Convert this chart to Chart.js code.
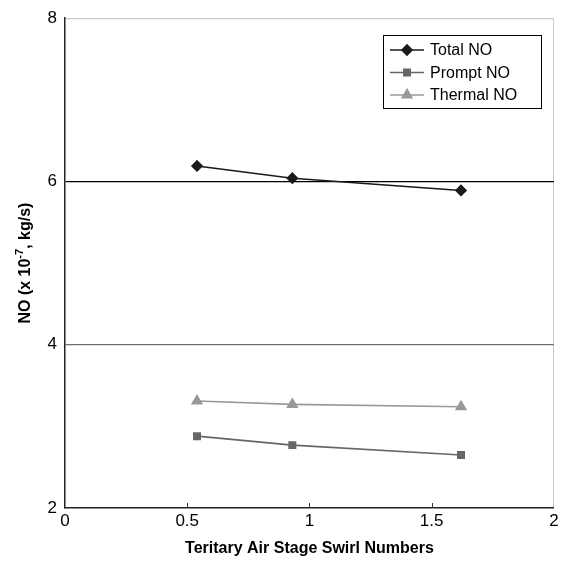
<!DOCTYPE html>
<html>
<head>
<meta charset="utf-8">
<script src="https://cdn.jsdelivr.net/npm/chart.js@4"></script>
<style>
  html, body { margin: 0; padding: 0; background: #fff; }
  #wrap { width: 561px; height: 562px; }
</style>
</head>
<body>
<div id="wrap"><canvas id="noChart" width="561" height="562"></canvas></div>
<script>
// swirl numbers on the x axis
const swirl = [0.54, 0.93, 1.62];
// NO values (x 1e-7 kg/s)
const totalNO   = [6.19, 6.04, 5.89];
const promptNO  = [2.88, 2.77, 2.65];
const thermalNO = [3.31, 3.27, 3.24];
const xTicks = [0, 0.5, 1, 1.5, 2];
const yTicks = [2, 4, 6, 8];

const FONT = '"Liberation Sans", Arial, Helvetica, sans-serif';

function pts(ys) {
    return swirl.map((x, i) => ({x: x, y: ys[i]}));
}

// titles, inward x ticks and the boxed legend
const extras = {
    id: 'extras',
    afterDraw(chart) {
        const ctx = chart.ctx;
        const a = chart.chartArea;
        const xs = chart.scales.x;
        ctx.save();
        // inward tick marks on x axis
        ctx.strokeStyle = '#333';
        ctx.lineWidth = 1;
        xTicks.forEach(v => {
            if (v === 0 || v === 2) return;
            const px = Math.round(xs.getPixelForValue(v)) + 0.5;
            ctx.beginPath();
            ctx.moveTo(px, a.bottom);
            ctx.lineTo(px, a.bottom - 5);
            ctx.stroke();
        });
        // x title
        ctx.fillStyle = '#000';
        ctx.font = 'bold 16px ' + FONT;
        ctx.textAlign = 'center';
        ctx.textBaseline = 'middle';
        ctx.fillText('Teritary Air Stage Swirl Numbers', (a.left + a.right) / 2, 549);
        // y title with superscript
        ctx.translate(26, (a.top + a.bottom) / 2);
        ctx.rotate(-Math.PI / 2);
        const p1 = 'NO (x 10', sup = '-7', p2 = ', kg/s)';
        ctx.font = 'bold 16px ' + FONT;
        const w1 = ctx.measureText(p1).width, w3 = ctx.measureText(p2).width;
        ctx.font = 'bold 11px ' + FONT;
        const w2 = ctx.measureText(sup).width;
        let x = -(w1 + w2 + w3) / 2;
        ctx.textAlign = 'left';
        ctx.font = 'bold 16px ' + FONT;
        ctx.fillText(p1, x, 0);
        x += w1;
        ctx.font = 'bold 11px ' + FONT;
        ctx.fillText(sup, x, -6);
        x += w2;
        ctx.font = 'bold 16px ' + FONT;
        ctx.fillText(p2, x, 0);
        ctx.restore();

        // legend
        ctx.save();
        ctx.fillStyle = '#fff';
        ctx.fillRect(383, 35, 158, 73);
        ctx.strokeStyle = '#000';
        ctx.lineWidth = 1;
        ctx.strokeRect(383.5, 35.5, 158, 73);
        ctx.font = '16px ' + FONT;
        ctx.textAlign = 'left';
        ctx.textBaseline = 'middle';
        chart.data.datasets.forEach((ds, i) => {
            const y = 50 + i * 22.5;
            ctx.strokeStyle = ds.borderColor;
            ctx.lineWidth = ds.borderWidth;
            ctx.beginPath();
            ctx.moveTo(390, y);
            ctx.lineTo(424, y);
            ctx.stroke();
            ctx.fillStyle = ds.pointBackgroundColor;
            ctx.strokeStyle = ds.pointBackgroundColor;
            Chart.helpers.drawPoint(ctx, {pointStyle: ds.pointStyle, radius: ds.pointRadius, borderWidth: 1, rotation: 0}, 407, y);
            ctx.fillStyle = '#000';
            ctx.fillText(ds.label, 430, y + 1);
        });
        ctx.restore();
    }
};

function gridColorY(c) {
    const v = c.tick && c.tick.value;
    if (v === 8) return '#c8c8c8';
    if (v === 6) return '#000';
    if (v === 4) return '#6e6e6e';
    return 'rgba(0,0,0,0)';
}
function gridColorX(c) {
    const v = c.tick && c.tick.value;
    if (v === 2) return '#c8c8c8';
    return 'rgba(0,0,0,0)';
}

const config = {
    type: 'line',
    data: {
        datasets: [{
            label: 'Total NO',
            data: pts(totalNO),
            borderColor: '#1a1a1a',
            borderWidth: 1.6,
            pointStyle: 'rectRot',
            pointRadius: 5,
            pointBackgroundColor: '#1a1a1a',
            pointBorderColor: '#1a1a1a',
            tension: 0
        }, {
            label: 'Prompt NO',
            data: pts(promptNO),
            borderColor: '#666',
            borderWidth: 1.6,
            pointStyle: 'rect',
            pointRadius: 4.5,
            pointBackgroundColor: '#666',
            pointBorderColor: '#666',
            tension: 0
        }, {
            label: 'Thermal NO',
            data: pts(thermalNO),
            borderColor: '#999',
            borderWidth: 1.6,
            pointStyle: 'triangle',
            pointRadius: 5.5,
            pointBackgroundColor: '#999',
            pointBorderColor: '#999',
            tension: 0
        }]
    },
    options: {
        responsive: false,
        animation: false,
        layout: {padding: {left: 0, right: 7, top: 18, bottom: 0}},
        plugins: {legend: {display: false}, tooltip: {enabled: false}},
        scales: {
            x: {
                type: 'linear',
                min: 0, max: 2,
                afterBuildTicks: s => { s.ticks = xTicks.map(v => ({value: v})); },
                afterFit: s => { s.height = 54; s.paddingRight = 0; },
                grid: {color: gridColorX, drawTicks: false, lineWidth: 1},
                border: {color: '#222', width: 1.5},
                ticks: {
                    color: '#000', font: {family: FONT, size: 17}, padding: 3, maxRotation: 0,
                    callback: v => String(v)
                }
            },
            y: {
                type: 'linear',
                min: 2, max: 8,
                afterBuildTicks: s => { s.ticks = yTicks.map(v => ({value: v})); },
                afterFit: s => { s.width = 65; },
                grid: {color: gridColorY, drawTicks: false, lineWidth: 1.2},
                border: {color: '#222', width: 1.5},
                ticks: {color: '#000', font: {family: FONT, size: 17}, padding: 8}
            }
        }
    },
    plugins: [extras]
};

new Chart(document.getElementById('noChart').getContext('2d'), config);
</script>
</body>
</html>
